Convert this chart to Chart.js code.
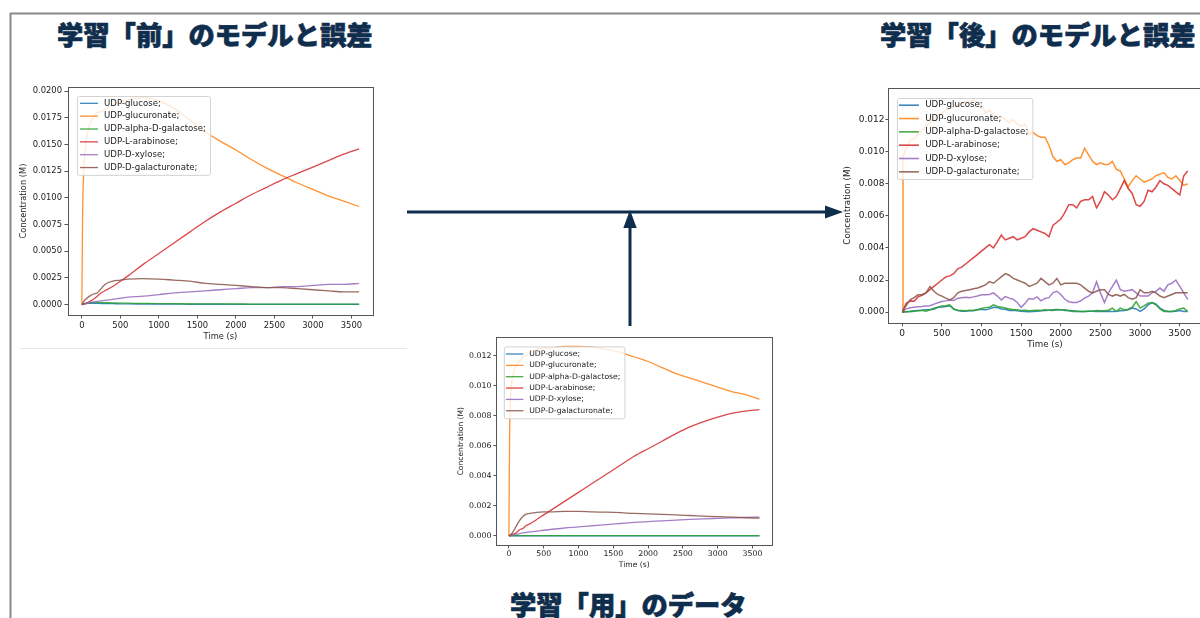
<!DOCTYPE html>
<html>
<head>
<meta charset="utf-8">
<script src="https://cdn.jsdelivr.net/npm/chart.js@4.4.1/dist/chart.umd.min.js"></script>
<style>
  html, body { margin: 0; padding: 0; }
  body { width: 1200px; height: 618px; overflow: hidden; position: relative; background: #fff; }
  .title { position: absolute; font-family: "Noto Sans CJK JP", sans-serif; font-weight: 900;
           font-size: 26.3px; line-height: 26px; color: #0f2d4d; white-space: nowrap;
           -webkit-text-stroke: 0.7px #0f2d4d; }
  canvas { position: absolute; }
  svg { position: absolute; left: 0; top: 0; }
</style>
</head>
<body>
<svg width="1200" height="618">
  <line x1="10" y1="13.5" x2="1200" y2="13.5" stroke="#8a8a8a" stroke-width="2"/>
  <line x1="10.5" y1="13" x2="10.5" y2="618" stroke="#8a8a8a" stroke-width="2"/>
  <line x1="20" y1="348.5" x2="407" y2="348.5" stroke="#e6e6e6" stroke-width="1"/>
  <line x1="407" y1="212" x2="827" y2="212" stroke="#0f2d4d" stroke-width="3"/>
  <polygon points="825,205.5 843,212 825,218.5" fill="#0f2d4d"/>
  <line x1="630" y1="326" x2="630" y2="224" stroke="#0f2d4d" stroke-width="3"/>
  <polygon points="623.3,228 630,210 636.7,228" fill="#0f2d4d"/>
</svg>
<div class="title" style="left:57px; top:21px;">学習「前」のモデルと誤差</div>
<div class="title" style="left:880px; top:21px;">学習「後」のモデルと誤差</div>
<div class="title" style="left:510px; top:591px;">学習「用」のデータ</div>

<script>
// 種（凡例）
const SPECIES = ['UDP-glucose;', 'UDP-glucuronate;', 'UDP-alpha-D-galactose;',
                 'UDP-L-arabinose;', 'UDP-D-xylose;', 'UDP-D-galacturonate;'];
const COLORS = ['rgba(31,119,180,0.88)', 'rgba(255,127,14,0.85)', 'rgba(44,160,44,0.88)',
                'rgba(214,39,40,0.85)', 'rgba(148,103,189,0.85)', 'rgba(140,86,75,0.88)'];

const X_TICKS = [0, 500, 1000, 1500, 2000, 2500, 3000, 3500];
const Y_TICKS_BEFORE = [0, 0.0025, 0.005, 0.0075, 0.01, 0.0125, 0.015, 0.0175, 0.02];
const Y_TICKS_SMALL = [0, 0.002, 0.004, 0.006, 0.008, 0.010, 0.012];

// time grid of the smooth model / training curves (s)
const TIME_MODEL = [0, 10, 25, 50, 100, 150, 200, 250, 300, 400, 500, 600, 800, 1000, 1200,
                    1400, 1600, 1800, 2000, 2200, 2400, 2600, 2800, 3000, 3200, 3400, 3600];

// 学習「前」
const before_glucose = [0, 0.00003, 0.00006, 0.0001, 0.00012, 0.00012, 0.00012, 0.00011, 0.0001, 0.00009, 0.00008, 0.00007, 0.00006, 0.00005,
  0.00005, 0.00004, 0.00004, 0.00004, 0.00003, 0.00003, 0.00003, 0.00003, 0.00003, 0.00002, 0.00002, 0.00002, 0.00002];
const before_glucuronate = [0, 0.0085, 0.0125, 0.0150, 0.0168, 0.0176, 0.0180, 0.0181, 0.0183, 0.0187, 0.0190, 0.0192, 0.0194, 0.0191,
  0.0184, 0.0173, 0.0162, 0.0153, 0.0145, 0.0136, 0.0128, 0.0121, 0.0114, 0.0108, 0.0102, 0.0097, 0.0092];
const before_galactose = [0, 0.00005, 0.0001, 0.00015, 0.0002, 0.0002, 0.0002, 0.0002, 0.00019, 0.00017, 0.00015, 0.00014, 0.00012, 0.0001,
  0.00009, 0.00008, 0.00008, 0.00007, 0.00007, 0.00006, 0.00006, 0.00006, 0.00005, 0.00005, 0.00005, 0.00005, 0.00005];
const before_arabinose = [0, 0.00002, 0.00005, 0.0001, 0.0003, 0.0005, 0.0008, 0.0011, 0.0013, 0.0017, 0.0022, 0.0027, 0.0038, 0.0048,
  0.0058, 0.0068, 0.0078, 0.0087, 0.0095, 0.0103, 0.0110, 0.0117, 0.0123, 0.0129, 0.0135, 0.0141, 0.0146];
const before_xylose = [0, 0.00002, 0.00005, 0.0001, 0.0002, 0.00025, 0.0003, 0.00035, 0.0004, 0.0005, 0.0006, 0.0007, 0.0008, 0.00095,
  0.0011, 0.0012, 0.0013, 0.0014, 0.0015, 0.0016, 0.0016, 0.0017, 0.0017, 0.0018, 0.0019, 0.0019, 0.0020];
const before_galacturonate = [0, 0.0001, 0.0003, 0.0005, 0.0008, 0.0010, 0.0011, 0.0015, 0.0019, 0.0022, 0.0023, 0.0024, 0.00245, 0.0024,
  0.0023, 0.0022, 0.0020, 0.0019, 0.0018, 0.0017, 0.0016, 0.0016, 0.0015, 0.0014, 0.0013, 0.0012, 0.0012];

// 学習「用」
const train_glucose = [0, 0, 0, 0, 0, 0, 0, 0, 0, 0, 0, 0, 0, 0, 0, 0, 0, 0, 0, 0, 0, 0, 0, 0, 0, 0, 0];
const train_glucuronate = [0, 0.0065, 0.0093, 0.0105, 0.0113, 0.0116, 0.0119, 0.0120, 0.0122, 0.0124, 0.0125, 0.0125, 0.0126, 0.0126,
  0.01255, 0.0124, 0.0122, 0.0119, 0.0116, 0.0112, 0.0108, 0.0105, 0.0102, 0.0099, 0.0096, 0.0094, 0.0091];
const train_galactose = [0, 0.00001, 0.00002, 0.00002, 0.00002, 0.00002, 0.00002, 0.00002, 0.00002, 0.00002, 0.00002, 0.00002, 0.00002, 0.00002,
  0.00002, 0.00002, 0.00002, 0.00002, 0.00002, 0.00002, 0.00002, 0.00002, 0.00002, 0.00002, 0.00002, 0.00002, 0.00002];
const train_arabinose = [0, 0.00002, 0.00005, 0.0001, 0.0002, 0.0004, 0.0005, 0.0007, 0.0008, 0.0011, 0.0014, 0.0017, 0.0023, 0.0029,
  0.0035, 0.0041, 0.0047, 0.0053, 0.0058, 0.0063, 0.0068, 0.00725, 0.0076, 0.0079, 0.00815, 0.0083, 0.0084];
const train_xylose = [0, 0.00001, 0.00003, 0.00005, 0.0001, 0.00015, 0.0002, 0.00024, 0.00027, 0.00032, 0.00038, 0.00043, 0.00053, 0.0006,
  0.00068, 0.00076, 0.00083, 0.0009, 0.00096, 0.001, 0.00105, 0.0011, 0.00114, 0.00117, 0.0012, 0.00123, 0.00125];
const train_galacturonate = [0, 0.00005, 0.0001, 0.0002, 0.0006, 0.0010, 0.0013, 0.00145, 0.0015, 0.00157, 0.0016, 0.0016, 0.00163, 0.00163,
  0.0016, 0.00158, 0.00155, 0.0015, 0.00147, 0.00143, 0.0014, 0.00136, 0.00132, 0.00128, 0.00125, 0.00121, 0.00118];

// 学習「後」 (sampled every 50 s)
const TIME_FIT = [0, 10, 50, 100, 150, 200, 250, 300, 350, 400,
  450, 500, 550, 600, 650, 700, 750, 800, 850, 900,
  950, 1000, 1050, 1100, 1150, 1200, 1250, 1300, 1350, 1400,
  1450, 1500, 1550, 1600, 1650, 1700, 1750, 1800, 1850, 1900,
  1950, 2000, 2050, 2100, 2150, 2200, 2250, 2300, 2350, 2400,
  2450, 2500, 2550, 2600, 2650, 2700, 2750, 2800, 2850, 2900,
  2950, 3000, 3050, 3100, 3150, 3200, 3250, 3300, 3350, 3400,
  3450, 3500, 3550, 3600];
const after_glucose = [0, 0.00001, 0.00003, 0.00005, 0.00008, 0.0001, 0.00012, 0.00015, 0.00015, 0.00018,
  0.0003, 0.00032, 0.00035, 0.0004, 0.0002, 0.0001, 0.00005, 0.00005, 0.0001, 0.00008,
  0.00015, 0.00018, 0.00015, 0.0002, 0.0003, 0.00028, 0.0002, 0.00018, 0.0001, 0.00012,
  0.00008, 0.00005, 0.00004, 0.00003, 0.00004, 0.00006, 0.00008, 0.0001, 0.00012, 0.00014,
  0.00016, 0.00014, 0.0001, 0.0001, 0.00008, 0.00006, 0.00004, 0.00004, 0.00005, 0.00006,
  0.00004, 0.00004, 0.00004, 0.00006, 0.00004, 0.00005, 0.00008, 0.0001, 0.00014, 0.00025,
  0.0002, 0.00004, 0.0002, 0.00045, 0.0006, 0.0005, 0.00025, 0.0001, 0.00004, 0.00004,
  0.00006, 0.0001, 0.00004, 0.00004];
const after_glucuronate = [0, 0.0097, 0.0102, 0.0107, 0.0108, 0.0111, 0.0113, 0.0116, 0.0118, 0.0121,
  0.0122, 0.0124, 0.0126, 0.0127, 0.0128, 0.0129, 0.0130, 0.0131, 0.0131, 0.0132,
  0.0131, 0.0129, 0.0124, 0.0126, 0.0123, 0.0121, 0.0122, 0.0120, 0.0118, 0.0120,
  0.0117, 0.0116, 0.0117, 0.0111, 0.0112, 0.0110, 0.0109, 0.0109, 0.0104, 0.0097,
  0.0094, 0.0095, 0.0092, 0.0093, 0.0095, 0.0096, 0.0096, 0.0102, 0.0098, 0.0094,
  0.0092, 0.0093, 0.0092, 0.0092, 0.0094, 0.0089, 0.0088, 0.0083, 0.0078, 0.0082,
  0.0085, 0.0083, 0.0081, 0.0082, 0.0083, 0.0085, 0.0086, 0.0087, 0.0084, 0.0083,
  0.0085, 0.0082, 0.0079, 0.0080];
const after_galactose = [0, 0.00001, 0.00002, 0.00003, 0.00005, 0.00008, 0.00012, 0.00005, 0.00015, 0.00025,
  0.0003, 0.00038, 0.0004, 0.00045, 0.00018, 0.00012, 0.0001, 0.00008, 0.0001, 0.00012,
  0.00015, 0.00022, 0.00028, 0.0003, 0.00045, 0.00035, 0.0003, 0.00025, 0.0002, 0.00015,
  0.00015, 0.0001, 0.00012, 0.00008, 0.0001, 0.00012, 0.0001, 0.00014, 0.00012, 0.0001,
  0.00014, 0.00014, 0.00014, 0.00008, 0.00004, 0.00004, 0.00004, 0.00004, 0.00005, 0.00006,
  0.0001, 0.00009, 0.00008, 0.00012, 0.00025, 0.00004, 0.00025, 0.00014, 0.00018, 0.0003,
  0.00066, 0.00025, 0.00039, 0.00056, 0.0006, 0.00045, 0.0002, 0.00004, 0.00004, 0.00004,
  0.0001, 0.0002, 0.00025, 0.00004];
const after_arabinose = [0, 0.0001, 0.00055, 0.0007, 0.00068, 0.00095, 0.00105, 0.0012, 0.0014, 0.0016,
  0.0018, 0.0020, 0.0022, 0.00226, 0.0024, 0.0027, 0.0028, 0.0030, 0.0032, 0.0034,
  0.0036, 0.0038, 0.0040, 0.0042, 0.0040, 0.0044, 0.0048, 0.0045, 0.0046, 0.0047,
  0.0045, 0.0046, 0.0047, 0.0050, 0.0052, 0.0051, 0.0050, 0.0049, 0.0047, 0.0054,
  0.0056, 0.0058, 0.0062, 0.0067, 0.0067, 0.0065, 0.0069, 0.0070, 0.0070, 0.0072,
  0.0065, 0.0069, 0.0075, 0.0073, 0.0070, 0.0072, 0.0077, 0.0082, 0.0077, 0.0074,
  0.0067, 0.0066, 0.0069, 0.0076, 0.0075, 0.0078, 0.0082, 0.0080, 0.0079, 0.0077,
  0.0075, 0.0073, 0.0085, 0.0088];
const after_xylose = [0, 0.00005, 0.0002, 0.00027, 0.0003, 0.00033, 0.00035, 0.00038, 0.0004, 0.0005,
  0.00058, 0.00066, 0.0007, 0.00076, 0.00072, 0.00086, 0.0009, 0.00093, 0.0009, 0.00095,
  0.001, 0.00108, 0.00108, 0.0011, 0.0012, 0.001, 0.00076, 0.00097, 0.00087, 0.0008,
  0.0006, 0.0003, 0.00055, 0.00085, 0.0008, 0.00095, 0.0007, 0.00085, 0.0009, 0.0012,
  0.0013, 0.0011, 0.0008, 0.00065, 0.0006, 0.0006, 0.0007, 0.00087, 0.001, 0.0012,
  0.0019, 0.0012, 0.0006, 0.0012, 0.0016, 0.0020, 0.0014, 0.0013, 0.00135, 0.0014,
  0.0012, 0.001, 0.001, 0.001, 0.0012, 0.0013, 0.0015, 0.0013, 0.0017, 0.0018,
  0.0020, 0.0016, 0.0012, 0.0008];
const after_galacturonate = [0, 0.0001, 0.0004, 0.00076, 0.0009, 0.00108, 0.0011, 0.0012, 0.0016, 0.0013,
  0.0011, 0.0010, 0.00087, 0.00076, 0.0009, 0.0012, 0.0013, 0.00135, 0.0014, 0.00145,
  0.0015, 0.0016, 0.0017, 0.0019, 0.0018, 0.0020, 0.0022, 0.0024, 0.0023, 0.0021,
  0.0020, 0.0019, 0.0018, 0.0016, 0.0017, 0.0018, 0.0021, 0.0019, 0.0017, 0.0018,
  0.0021, 0.0017, 0.0018, 0.0018, 0.0018, 0.0018, 0.0017, 0.0015, 0.0013, 0.0012,
  0.0013, 0.0014, 0.0014, 0.0011, 0.0010, 0.0011, 0.0010, 0.0011, 0.0009, 0.0008,
  0.0009, 0.0014, 0.0012, 0.0012, 0.0013, 0.0012, 0.0010, 0.0009, 0.0010, 0.0011,
  0.0012, 0.0012, 0.0012, 0.0012];

const X_RANGE = [-180, 3780];

// frame around the axes, like matplotlib's four spines
const framePlugin = {
  id: 'frame',
  afterDatasetsDraw(chart) {
    const { ctx, chartArea: a } = chart;
    ctx.save();
    ctx.strokeStyle = '#555';
    ctx.lineWidth = 1;
    ctx.strokeRect(Math.round(a.left) + 0.5, Math.round(a.top) + 0.5,
                   Math.round(a.right - a.left), Math.round(a.bottom - a.top));
    ctx.restore();
  }
};

// legend drawn inside the plot, upper left
const insideLegend = {
  id: 'insideLegend',
  afterDatasetsDraw(chart, args, o) {
    const { ctx, chartArea: a } = chart;
    const sets = chart.data.datasets;
    ctx.save();
    ctx.font = o.size + 'px "DejaVu Sans"';
    const maxW = Math.max(...sets.map(d => ctx.measureText(d.label).width));
    const x0 = a.left + o.dx, y0 = a.top + o.dy;
    const w = o.textX + maxW + 4;
    const h = (sets.length - 1) * o.rowH + o.padY * 2;
    ctx.fillStyle = 'rgba(255,255,255,0.8)';
    ctx.strokeStyle = '#d3d3d3';
    ctx.lineWidth = 1;
    ctx.beginPath();
    ctx.roundRect(x0 + 0.5, y0 + 0.5, w, h, 2);
    ctx.fill();
    ctx.stroke();
    ctx.textBaseline = 'middle';
    sets.forEach((d, i) => {
      const y = y0 + o.padY + i * o.rowH;
      ctx.strokeStyle = d.borderColor;
      ctx.lineWidth = o.lw;
      ctx.beginPath();
      ctx.moveTo(x0 + o.swX, y);
      ctx.lineTo(x0 + o.swX + o.swL, y);
      ctx.stroke();
      ctx.fillStyle = '#222';
      ctx.fillText(d.label, x0 + o.textX, y);
    });
    ctx.restore();
  }
};

function makeChart(c) {
  const padT = 8, padR = 8, padB = 2;
  const lh = c.titleSize * 1.2;
  const yW = c.frame.l - c.yTitleX + lh / 2;
  const xH = c.xTitleY + lh / 2 - c.frame.b;
  const canvas = document.createElement('canvas');
  const W = Math.round(yW + (c.frame.r - c.frame.l) + padR);
  const H = Math.round(padT + (c.frame.b - c.frame.t) + xH + padB);
  canvas.width = W; canvas.height = H;
  canvas.style.left = (c.frame.l - yW) + 'px';
  canvas.style.top = (c.frame.t - padT) + 'px';
  canvas.style.width = W + 'px'; canvas.style.height = H + 'px';
  document.body.appendChild(canvas);

  const n = c.series.length;
  const datasets = c.series.map((vals, i) => ({
    label: SPECIES[i],
    data: vals.map((v, j) => ({ x: c.times[j], y: v })),
    borderColor: COLORS[i],
    borderWidth: c.lw,
    pointRadius: 0,
    tension: 0,
    cubicInterpolationMode: c.smooth ? 'monotone' : 'default',
    order: n - 1 - i
  }));
  const tickFont = { family: 'DejaVu Sans', size: c.tickSize };
  const titleFont = { family: 'DejaVu Sans', size: c.titleSize, lineHeight: 1.2 };

  new Chart(canvas, {
    type: 'line',
    data: { datasets },
    options: {
      responsive: false,
      animation: false,
      devicePixelRatio: 1,
      layout: { padding: { left: 0, top: padT, right: padR, bottom: padB } },
      plugins: {
        legend: { display: false },
        tooltip: { enabled: false },
        insideLegend: c.legend
      },
      scales: {
        x: {
          type: 'linear', min: X_RANGE[0], max: X_RANGE[1],
          afterBuildTicks: s => { s.ticks = X_TICKS.map(v => ({ value: v })); },
          afterFit: s => { s.height = xH; },
          grid: { drawOnChartArea: false, drawTicks: true, tickLength: c.xTick[0], color: '#555' },
          border: { display: false },
          ticks: { font: tickFont, color: '#222', padding: c.xTick[1], maxRotation: 0,
                   callback: v => String(v) },
          title: { display: true, text: 'Time (s)', font: titleFont, color: '#222',
                   padding: { top: 0, bottom: 0 } }
        },
        y: {
          type: 'linear', min: c.yRange[0], max: c.yRange[1],
          afterBuildTicks: s => { s.ticks = c.yTicks.map(v => ({ value: v })); },
          afterFit: s => { s.width = yW; },
          grid: { drawOnChartArea: false, drawTicks: true, tickLength: c.yTick[0], color: '#555' },
          border: { display: false },
          ticks: { font: tickFont, color: '#222', padding: c.yTick[1],
                   callback: v => v.toFixed(c.digits) },
          title: { display: true, text: 'Concentration (M)', font: titleFont, color: '#222',
                   padding: { top: 0, bottom: 0 } }
        }
      }
    },
    plugins: [framePlugin, insideLegend]
  });
}

makeChart({
  frame: { l: 68, t: 87, r: 373, b: 315 },
  yTitleX: 24, xTitleY: 337,
  times: TIME_MODEL, smooth: true, lw: 1.3,
  series: [before_glucose, before_glucuronate, before_galactose, before_arabinose, before_xylose, before_galacturonate],
  yRange: [-0.00097, 0.0204], yTicks: Y_TICKS_BEFORE, digits: 4,
  tickSize: 8.4, titleSize: 8.3, xTick: [3.5, 2], yTick: [3.5, 2.5],
  legend: { size: 8.6, dx: 9, dy: 9, padY: 7.3, rowH: 12.85, swX: 3, swL: 18, textX: 27, lw: 1.3 }
});

makeChart({
  frame: { l: 888, t: 88, r: 1202, b: 323 },
  yTitleX: 848.3, xTitleY: 345,
  times: TIME_FIT, smooth: false, lw: 1.5,
  series: [after_glucose, after_glucuronate, after_galactose, after_arabinose, after_xylose, after_galacturonate],
  yRange: [-0.000665, 0.01397], yTicks: Y_TICKS_SMALL, digits: 3,
  tickSize: 9, titleSize: 8.7, xTick: [3.5, 1.5], yTick: [2.5, 1],
  legend: { size: 8.7, dx: 9, dy: 10, padY: 7.2, rowH: 13.33, swX: 2, swL: 20, textX: 28.3, lw: 1.6 }
});

makeChart({
  frame: { l: 496.5, t: 337.3, r: 772, b: 546 },
  yTitleX: 460.7, xTitleY: 566,
  times: TIME_MODEL, smooth: true, lw: 1.3,
  series: [train_glucose, train_glucuronate, train_galactose, train_arabinose, train_xylose, train_galacturonate],
  yRange: [-0.00063, 0.01323], yTicks: Y_TICKS_SMALL, digits: 3,
  tickSize: 7.8, titleSize: 7.6, xTick: [3, 0.8], yTick: [3, 2],
  legend: { size: 7.7, dx: 7.5, dy: 9.4, padY: 7.6, rowH: 11.35, swX: 2, swL: 17.5, textX: 25.3, lw: 1.3 }
});
</script>
</body>
</html>
